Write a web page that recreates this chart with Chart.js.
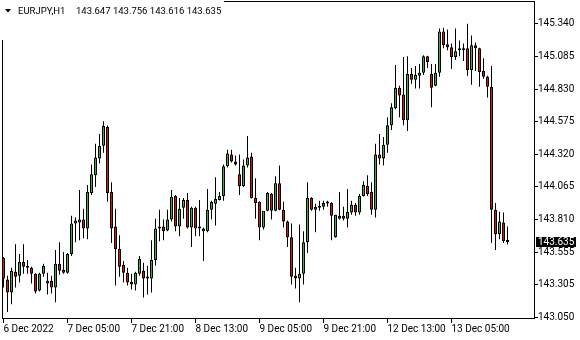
<!DOCTYPE html>
<html>
<head>
<meta charset="utf-8">
<script src="https://cdn.jsdelivr.net/npm/chart.js"></script>
<style>
  body { margin: 0; background: #fff; }
  canvas { display: block; }
</style>
</head>
<body>
<canvas id="chart" width="580" height="340"></canvas>
<script>
// EURJPY H1, one bar per hour, starting 6 Dec 2022 13:00
const symbol = 'EURJPY,H1';

const opens = [
  143.511,143.342,143.242,143.403,143.373,143.480,143.450,143.434,143.388,143.257,
  143.388,143.311,143.334,143.280,143.465,143.419,143.396,143.542,143.780,143.787,
  143.811,143.741,144.018,144.157,144.287,144.387,144.533,144.026,143.757,143.581,
  143.457,143.396,143.326,143.303,143.388,143.411,143.365,143.350,143.496,143.741,
  143.757,143.726,143.811,143.995,143.757,143.903,143.964,143.749,143.903,143.749,
  143.741,143.719,143.887,143.934,143.964,143.995,144.226,144.318,144.264,144.165,
  144.072,144.233,144.303,143.980,143.949,143.749,143.880,144.011,143.880,144.095,
  143.887,143.795,143.673,143.373,143.350,143.388,143.634,143.980,143.887,143.903,
  143.911,143.937,143.941,143.673,143.841,143.841,143.818,143.865,143.926,143.865,
  143.995,144.072,144.026,143.887,144.318,144.287,144.395,144.548,144.679,144.840,
  144.787,144.587,144.948,144.902,144.933,144.956,145.086,144.948,144.856,144.956,
  145.279,145.179,145.156,145.079,145.133,145.140,145.148,144.979,145.171,145.148,
  144.971,144.925,144.848,143.887,143.696,143.787,143.647
];
const highs = [
  143.519,143.373,143.434,143.619,143.542,143.619,143.496,143.442,143.392,143.396,
  143.465,143.396,143.373,143.573,143.634,143.557,143.550,143.841,143.826,144.042,
  143.895,144.080,144.241,144.402,144.479,144.579,144.545,144.103,143.895,143.688,
  143.488,143.434,143.388,143.403,143.527,143.473,143.450,143.650,143.818,143.887,
  143.811,143.887,144.042,144.003,143.980,143.980,144.018,143.910,143.911,143.964,
  143.749,144.049,143.957,144.141,144.026,144.241,144.356,144.356,144.310,144.318,
  144.279,144.464,144.333,144.134,143.953,143.872,144.026,144.018,144.149,144.233,
  143.949,143.803,143.780,143.434,143.772,143.719,144.103,143.984,143.934,143.957,
  143.957,143.957,143.945,143.849,144.026,143.911,144.049,143.957,143.941,144.011,
  144.110,144.157,144.103,144.402,144.479,144.456,144.610,144.718,145.017,144.856,
  145.079,145.086,144.994,145.010,145.025,145.094,145.090,145.025,145.025,145.302,
  145.309,145.294,145.186,145.302,145.209,145.186,145.340,145.248,145.194,145.152,
  145.071,144.933,145.010,143.941,143.872,143.865,143.756
];
const lows = [
  143.280,143.089,143.150,143.280,143.319,143.388,143.388,143.311,143.234,143.249,
  143.365,143.226,143.234,143.166,143.380,143.388,143.388,143.527,143.634,143.650,
  143.665,143.657,144.003,144.065,144.248,144.333,143.949,143.627,143.296,143.365,
  143.319,143.296,143.265,143.257,143.373,143.203,143.226,143.242,143.450,143.642,
  143.650,143.719,143.795,143.719,143.680,143.818,143.741,143.596,143.680,143.680,
  143.488,143.711,143.811,143.764,143.960,143.957,144.218,144.256,144.233,144.003,
  144.065,144.218,143.975,143.818,143.650,143.734,143.876,143.811,143.876,143.883,
  143.749,143.596,143.303,143.273,143.166,143.303,143.550,143.880,143.711,143.880,
  143.887,143.911,143.650,143.668,143.811,143.803,143.749,143.849,143.841,143.849,
  143.990,143.995,143.849,143.826,144.241,144.233,144.333,144.510,144.671,144.610,
  144.548,144.502,144.871,144.833,144.833,144.940,144.994,144.687,144.852,144.925,
  145.148,145.133,144.987,145.056,145.086,145.048,144.933,144.864,144.971,144.848,
  144.910,144.764,143.627,143.573,143.657,143.627,143.616
];
const closes = [
  143.350,143.242,143.411,143.365,143.480,143.442,143.434,143.388,143.249,143.388,
  143.450,143.334,143.280,143.465,143.411,143.396,143.542,143.780,143.803,143.811,
  143.741,144.026,144.165,144.295,144.387,144.541,144.018,143.741,143.581,143.442,
  143.396,143.319,143.303,143.396,143.503,143.350,143.350,143.496,143.741,143.757,
  143.719,143.811,143.988,143.757,143.895,143.964,143.749,143.903,143.741,143.741,
  143.719,143.887,143.949,143.972,143.995,144.226,144.326,144.264,144.241,144.072,
  144.233,144.295,143.980,143.941,143.749,143.880,144.018,143.880,144.095,143.887,
  143.795,143.673,143.365,143.350,143.388,143.634,143.980,143.887,143.911,143.911,
  143.941,143.941,143.841,143.849,143.818,143.818,143.872,143.926,143.865,143.995,
  144.080,144.011,143.887,144.318,144.287,144.395,144.548,144.687,144.840,144.779,
  144.587,144.948,144.902,144.940,144.956,145.086,145.040,144.840,144.956,145.279,
  145.171,145.156,145.079,145.125,145.140,145.133,144.979,145.171,145.148,144.963,
  144.925,144.848,143.887,143.696,143.795,143.642,143.635
];

// bar index of each time label
const xTickPos = [0, 16, 32, 48, 64, 80, 96, 112];
const xTickLabels = ['6 Dec 2022', '7 Dec 05:00', '7 Dec 21:00', '8 Dec 13:00',
  '9 Dec 05:00', '9 Dec 21:00', '12 Dec 13:00', '13 Dec 05:00'];
const yTicks = [145.340, 145.085, 144.830, 144.575, 144.320, 144.065, 143.810, 143.555, 143.305, 143.050];

const bullColor = 'rgb(60,175,60)';
const bearColor = 'rgb(215,20,20)';
const font = { family: 'Roboto', size: 10 };

const last = closes.length - 1;
const bodies = opens.map((o, i) => ({ x: i, y: [o, closes[i]] }));
const wicks = lows.map((l, i) => ({ x: i, y: [l, highs[i]] }));
const bodyColors = opens.map((o, i) => closes[i] >= o ? bullColor : bearColor);

const overlay = {
  id: 'overlay',
  afterDraw(c) {
    const ctx = c.ctx;
    const yScale = c.scales.y;
    ctx.save();
    // frame
    ctx.strokeStyle = '#000';
    ctx.lineWidth = 1;
    ctx.strokeRect(2.5, 1.5, 532, 317);
    // caption area
    ctx.fillStyle = '#fff';
    ctx.fillRect(0, 0, 224, 40);
    ctx.fillStyle = '#000';
    ctx.beginPath();
    ctx.moveTo(5, 9);
    ctx.lineTo(11, 9);
    ctx.lineTo(8, 12.5);
    ctx.closePath();
    ctx.fill();
    ctx.font = '9.5px Roboto';
    ctx.textBaseline = 'middle';
    ctx.textAlign = 'left';
    ctx.fillText(symbol, 18, 12);
    const ohlc = [opens[last], highs[last], lows[last], closes[last]].map(v => v.toFixed(3)).join(' ');
    ctx.fillText(ohlc, 76, 12);
    // current price label
    const py = Math.round(yScale.getPixelForValue(closes[last]));
    ctx.fillStyle = '#000';
    ctx.fillRect(536, py - 5, 40, 10);
    ctx.fillStyle = '#fff';
    ctx.font = '10px Roboto';
    ctx.fillText(closes[last].toFixed(3), 538, py);
    ctx.restore();
  }
};

new Chart(document.getElementById('chart'), {
  type: 'bar',
  data: {
    datasets: [
      {
        data: bodies,
        backgroundColor: bodyColors,
        borderColor: '#000',
        borderWidth: 1,
        borderSkipped: false,
        barThickness: 3,
        minBarLength: 2,
        inflateAmount: 0,
        grouped: false
      },
      {
        data: wicks,
        backgroundColor: '#000',
        borderWidth: 0,
        barThickness: 1,
        inflateAmount: 0,
        grouped: false
      }
    ]
  },
  options: {
    responsive: false,
    animation: false,
    layout: { padding: { left: 2, top: 1, right: 0, bottom: 0 } },
    plugins: { legend: { display: false }, tooltip: { enabled: false } },
    scales: {
      x: {
        type: 'linear',
        offset: false,
        bounds: 'data',
        min: -0.375,
        max: 132.875,
        afterBuildTicks: s => { s.ticks = xTickPos.map(v => ({ value: v })); },
        afterFit: s => { s.height = 21; },
        ticks: {
          autoSkip: false,
          maxRotation: 0,
          align: 'start',
          padding: 0,
          color: '#000',
          font: font,
          callback: (v, i) => xTickLabels[i]
        },
        grid: { offset: false, drawOnChartArea: false, drawTicks: true, tickLength: 4, color: '#000' },
        border: { display: false }
      },
      y: {
        position: 'right',
        bounds: 'data',
        min: 143.0345,
        max: 145.478,
        afterBuildTicks: s => { s.ticks = yTicks.map(v => ({ value: v })); },
        afterFit: s => { s.width = 45; },
        ticks: {
          autoSkip: false,
          padding: 0,
          color: '#000',
          font: font,
          callback: v => v.toFixed(3)
        },
        grid: { drawOnChartArea: false, drawTicks: true, tickLength: 3, color: '#000' },
        border: { display: false }
      }
    }
  },
  plugins: [overlay]
});
</script>
</body>
</html>
